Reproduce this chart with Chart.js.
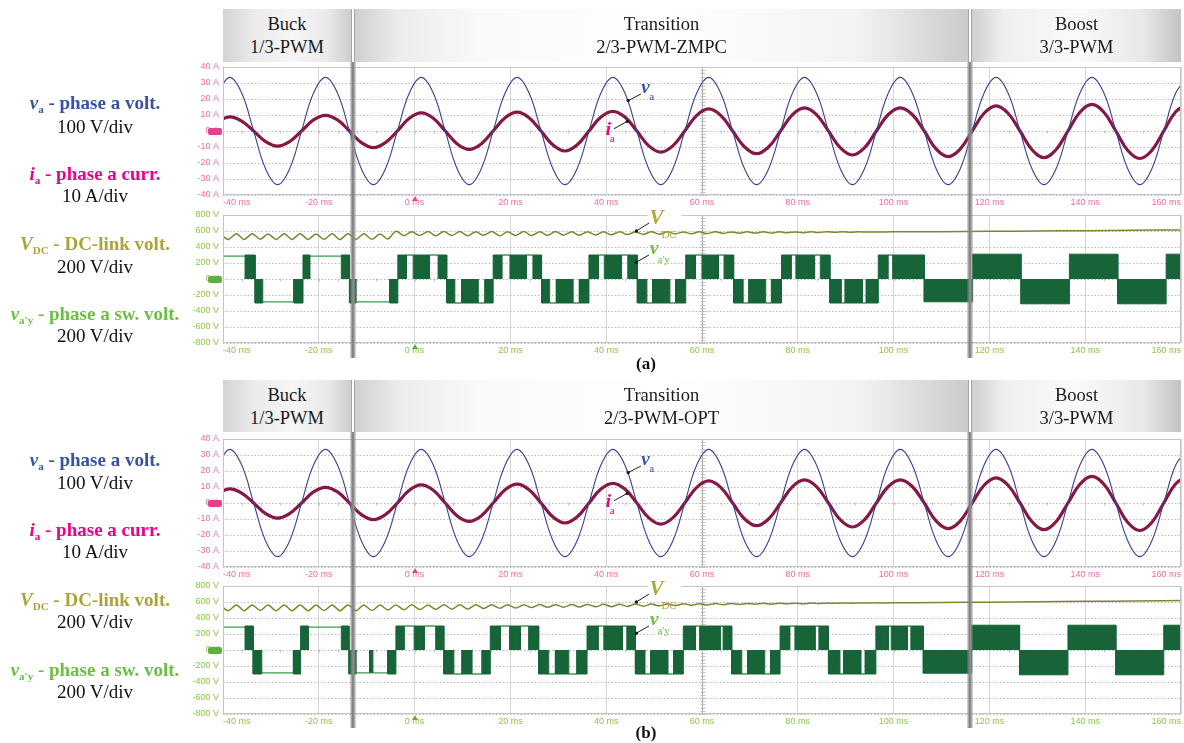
<!DOCTYPE html>
<html>
<head>
<meta charset="utf-8">
<script src="https://cdn.jsdelivr.net/npm/chart.js@4.4.1/dist/chart.umd.min.js"></script>
<style>
  body { margin: 0; background: #fff; }
  #page { position: relative; width: 1184px; height: 743px; overflow: hidden; font-family: "Liberation Serif", "Times New Roman", serif; }
  .lbl { position: absolute; left: 0; width: 190px; text-align: center; font-size: 19px; line-height: 22px; white-space: nowrap; color: #111; }
  .lbl .tag { font-weight: bold; }
  .lbl sub { font-size: 11px; line-height: 0; vertical-align: -0.35em; font-style: normal; }
  .mode { position: absolute; text-align: center; font-size: 18.5px; line-height: 22.5px; color: #1a1a1a; box-sizing: border-box; padding-top: 4px; }
  .sep { position: absolute; width: 2px; border-left: 1px solid #a4a4a4; border-right: 1px solid #a4a4a4; background: #fff; }
  .bar { position: absolute; width: 6px; background: linear-gradient(to right, rgba(140,140,140,0.25), #828282 40%, #8c8c8c 60%, rgba(140,140,140,0.25)); }
  .cap { position: absolute; width: 40px; text-align: center; font-weight: bold; font-size: 17px; line-height: 18px; color: #111; }
  .mark { position: absolute; width: 14px; height: 7px; border-radius: 2px; }
  .trig { position: absolute; width: 0; height: 0; border-left: 3px solid transparent; border-right: 3px solid transparent; }
</style>
</head>
<body>
<div id="page"></div>
<script>
const timeTicksMs = [-40, -20, 0, 20, 40, 60, 80, 100, 120, 140, 160];
const currTicks = [-40, -30, -20, -10, 0, 10, 20, 30, 40];
const voltTicks = [-800, -600, -400, -200, 0, 200, 400, 600, 800];
const transitionMs = [-12.9, 116.0];

const modeNamesA = [["Buck", "1/3-PWM"], ["Transition", "2/3-PWM-ZMPC"], ["Boost", "3/3-PWM"]];
const modeNamesB = [["Buck", "1/3-PWM"], ["Transition", "2/3-PWM-OPT"], ["Boost", "3/3-PWM"]];

// sample times of the sine traces (ms)
const sineTimeMs = [
  -41.1, -38.6, -36.1, -33.6, -31.1, -28.6, -26.1, -23.6,
  -21.1, -18.6, -16.1, -13.6, -11.1, -8.6, -6.1, -3.6,
  -1.1, 1.4, 3.9, 6.4, 8.9, 11.4, 13.9, 16.4,
  18.9, 21.4, 23.9, 26.4, 28.9, 31.4, 33.9, 36.4,
  38.9, 41.4, 43.9, 46.4, 48.9, 51.4, 53.9, 56.4,
  58.9, 61.4, 63.9, 66.4, 68.9, 71.4, 73.9, 76.4,
  78.9, 81.4, 83.9, 86.4, 88.9, 91.4, 93.9, 96.4,
  98.9, 101.4, 103.9, 106.4, 108.9, 111.4, 113.9, 116.4,
  118.9, 121.4, 123.9, 126.4, 128.9, 131.4, 133.9, 136.4,
  138.9, 141.4, 143.9, 146.4, 148.9, 151.4, 153.9, 156.4,
  158.9, 161.4
];
// v_a in divisions x10 (100 V/div), i_a in A (10 A/div)
const phaseVolt = [
  23.7, 33.5, 23.7, 0, -23.7, -33.5, -23.7, 0,
  23.7, 33.5, 23.7, 0, -23.7, -33.5, -23.7, 0,
  23.7, 33.5, 23.7, 0, -23.7, -33.5, -23.7, 0,
  23.7, 33.5, 23.7, 0, -23.7, -33.5, -23.7, 0,
  23.7, 33.5, 23.7, 0, -23.7, -33.5, -23.7, 0,
  23.7, 33.5, 23.7, 0, -23.7, -33.5, -23.7, 0,
  23.7, 33.5, 23.7, 0, -23.7, -33.5, -23.7, 0,
  23.7, 33.5, 23.7, 0, -23.7, -33.5, -23.7, 0,
  23.7, 33.5, 23.7, 0, -23.7, -33.5, -23.7, 0,
  23.7, 33.5, 23.7, 0, -23.7, -33.5, -23.7, 0,
  23.7, 33.5
];
const phaseCurr = [
  6.2, 8.8, 6.2, 0, -6.6, -9.4, -6.6, 0,
  6.9, 9.8, 6.9, 0, -7.3, -10.4, -7.3, 0,
  8.0, 11.3, 8.0, 0, -8.1, -11.5, -8.1, 0,
  8.3, 11.8, 8.3, 0, -8.8, -12.5, -8.8, 0,
  8.7, 12.3, 8.7, 0, -9.3, -13.2, -9.3, 0,
  9.8, 13.8, 9.8, 0, -10.0, -14.2, -10.0, 0,
  10.2, 14.4, 10.2, 0, -10.6, -15.0, -10.6, 0,
  10.3, 14.5, 10.3, 0, -11.3, -16.0, -11.3, 0,
  11.1, 15.7, 11.1, 0, -11.7, -16.6, -11.7, 0,
  11.7, 16.6, 11.7, 0, -12.2, -17.2, -12.2, 0,
  12.0, 17.0
];

// DC-link voltage samples (ms, V)
const dcTimeMs = [
  -40.6, -38.9, -37.2, -35.6, -33.9, -32.2, -30.6, -28.9, -27.2, -25.6,
  -23.9, -22.2, -20.6, -18.9, -17.2, -15.6, -13.9, -12.2, -10.6, -8.9,
  -7.2, -5.6, -3.9, -2.2, -0.6, 1.1, 2.8, 4.4, 6.1, 7.8,
  9.4, 11.1, 12.8, 14.4, 16.1, 17.8, 19.4, 21.1, 22.8, 24.4,
  26.1, 27.8, 29.4, 31.1, 32.8, 34.4, 36.1, 37.8, 39.4, 41.1,
  42.8, 44.4, 46.1, 47.8, 49.4, 51.1, 52.8, 54.4, 56.1, 57.8,
  59.4, 61.1, 62.8, 64.4, 66.1, 67.8, 69.4, 71.1, 72.8, 74.4,
  76.1, 77.8, 79.4, 81.1, 82.8, 84.4, 86.1, 87.8, 89.4, 91.1,
  92.8, 94.4, 96.1, 97.8, 99.4, 110, 120, 130, 140, 150,
  162
];
const dcLinkA = [
  565, 495, 566, 494, 565, 496, 564, 495, 566, 494,
  565, 495, 564, 496, 565, 494, 566, 495, 565, 496,
  564, 500, 596, 542, 592, 545, 595, 540, 593, 544,
  594, 541, 591, 546, 595, 540, 592, 544, 594, 543,
  591, 545, 593, 548, 590, 546, 592, 550, 590, 552,
  591, 555, 589, 558, 592, 560, 590, 563, 589, 565,
  590, 568, 591, 570, 589, 572, 590, 574, 591, 575,
  590, 577, 589, 579, 590, 581, 591, 583, 590, 584,
  590, 586, 589, 587, 590, 592, 596, 600, 604, 608,
  614
];
const dcLinkB = [
  562, 492, 563, 491, 562, 493, 561, 492, 563, 491,
  562, 492, 561, 493, 562, 491, 563, 492, 562, 494,
  563, 500, 564, 503, 565, 505, 564, 507, 565, 510,
  565, 514, 566, 518, 565, 522, 567, 526, 566, 530,
  568, 533, 567, 535, 569, 537, 570, 540, 571, 542,
  572, 545, 574, 548, 575, 552, 576, 556, 577, 560,
  579, 564, 580, 567, 581, 570, 582, 572, 583, 575,
  584, 577, 585, 579, 586, 581, 587, 583, 588, 585,
  589, 586, 590, 588, 590, 593, 598, 603, 608, 613,
  619
];

// switched voltage v_a'y: segment edges (ms), level (V), kind P = PWM block, C = clamped
const swEdgesA = [
  -41, -35.4, -33.3, -31.7, -25.2, -23.3, -21.9, -15.3, -13.6, -12.2, -5.2, -3.5,
  -1.7, -0.3, 3.1, 4.9, 6.7, 8.4, 9.8, 13.3, 14.7, 16.4,
  18.2, 19.9, 23.3, 24.7, 26.5, 28.2, 29.6, 33.1, 34.4, 36.4,
  38.4, 39.6, 43.2, 44.5, 46.5, 48.5, 49.7, 53.3, 54.5, 56.6,
  58.6, 60.0, 63.4, 64.6, 66.6, 68.6, 69.8, 73.3, 74.5, 76.6,
  78.6, 79.6, 83.5, 84.7, 86.7, 89.1, 89.9, 93.5, 94.3, 96.8,
  98.8, 99.8, 106.4, 116.5, 126.6, 136.7, 146.8, 156.9, 162
];
const swLevelsA = [
  285, 300, -300, -285, -300, 300, 285, 300, -300, -285, -300,
  300, 300, 300, 300, 300, -300, -300, -300, -300, -300,
  300, 300, 300, 300, 300, -300, -300, -300, -300, -300,
  300, 300, 300, 300, 300, -300, -300, -300, -300, -300,
  300, 300, 300, 300, 300, -300, -300, -300, -300, -300,
  300, 300, 300, 300, 300, -300, -300, -300, -300, -300,
  300, 300, 300, -285, 310, -310, 310, -310, 310
];
const swKindsA = "CPPCPPCPPCP PCPCP PCPCP PCPCP PCPCP PCPCP PCPCP PCPCP PCPCP PCPCP PCPCP PCP PPPPPP";

const swEdgesB = [
  -41, -35.4, -33.7, -31.9, -25.3, -23.8, -22.2, -15.3, -13.7, -12.2, -9.4, -8.7, -5.6, -3.9,
  -2.2, -0.1, 2.0, 4.4, 6.1, 8.2, 9.9, 12.0, 14.1, 15.8,
  17.9, 19.8, 22.1, 23.8, 25.9, 28.0, 29.4, 32.2, 33.9, 36.0,
  38.3, 39.5, 43.4, 44.3, 46.1, 48.1, 49.3, 52.9, 54.1, 56.1,
  58.6, 59.5, 63.8, 64.4, 66.2, 68.3, 69.5, 73.1, 74.3, 76.3,
  78.3, 79.4, 83.6, 84.4, 86.4, 88.8, 89.6, 93.2, 94.1, 96.3,
  98.9, 99.5, 102.9, 103.6, 106.2, 116.3, 126.3, 136.4, 146.4, 156.4, 162
];
const swLevelsB = [
  285, 300, -300, -285, -300, 300, 285, 300, -300, -285, -285, -285, -300,
  300, 300, 300, 300, 300, -300, -300, -300, -300, -300,
  300, 300, 300, 300, 300, -300, -300, -300, -300, -300,
  300, 300, 300, 300, 300, -300, -300, -300, -300, -300,
  300, 300, 300, 300, 300, -300, -300, -300, -300, -300,
  300, 300, 300, 300, 300, -300, -300, -300, -300, -300,
  300, 300, 300, 300, 300,
  -290, 310, -310, 310, -310, 310
];
const swKindsB = "CPPCPPCPPCPCP PCPCP PCPCP PCPCP PCPCP PCPCP PCPCP PCPCP PCPCP PCPCP PCPCP PCPCP P PPPPP";

// ---- layout ----
const AXIS_W = 40, PAD_T = 10, PAD_R = 3, XAXIS_H = 14;
const page = document.getElementById("page");
const serif = '"Liberation Serif", "Times New Roman", serif';

const sideLabels = [
  '<span class="tag" style="color:#3953a4"><i>v</i><sub>a</sub> - phase a volt.</span>',
  '100 V/div',
  '<span class="tag" style="color:#ec008c"><i>i</i><sub>a</sub> - phase a curr.</span>',
  '10 A/div',
  '<span class="tag" style="color:#aca43a"><i>V</i><sub>DC</sub> - DC-link volt.</span>',
  '200 V/div',
  '<span class="tag" style="color:#6dbe45"><i>v</i><sub>a\'y</sub> - phase a sw. volt.</span>',
  '200 V/div'
];
const sideLabelYA = [104, 128, 175, 197, 245, 268, 315, 337];
const sideLabelYB = [461, 484, 531, 553, 601, 623, 671, 693];

function pts(xs, ys) {
  return xs.map((x, i) => ({ x: x, y: ys[i] }));
}

function switchingData(edges, levels, kindStr) {
  const kinds = kindStr.replace(/ /g, "");
  const blocks = [], clamp = [];
  for (let i = 0; i < levels.length; i++) {
    const a = edges[i], b = edges[i + 1];
    if (kinds[i] === "P") {
      blocks.push({ x: a, y: levels[i] }, { x: b, y: levels[i] });
      clamp.push({ x: a, y: null });
    } else {
      blocks.push({ x: a, y: 0 }, { x: b, y: 0 });
      clamp.push({ x: a, y: levels[i] }, { x: b, y: levels[i] });
    }
  }
  return { blocks, clamp };
}

const scopeDecor = {
  id: "scopeDecor",
  beforeDatasetsDraw(chart) {
    const { ctx, chartArea: a, scales: { x, y } } = chart;
    ctx.save();
    ctx.strokeStyle = "#a9a9a9";
    ctx.lineWidth = 1;
    const cx = Math.round(x.getPixelForValue(60)) + 0.5;
    const cy = Math.round(y.getPixelForValue(0)) + 0.5;
    ctx.beginPath();
    ctx.moveTo(cx, a.top); ctx.lineTo(cx, a.bottom);
    ctx.stroke();
    ctx.beginPath();
    const stepY = (a.bottom - a.top) / 40;
    for (let py = a.top; py <= a.bottom + 0.1; py += stepY) {
      ctx.moveTo(cx - 2, Math.round(py) + 0.5); ctx.lineTo(cx + 3, Math.round(py) + 0.5);
    }
    const stepX = (a.right - a.left) / 50;
    for (let px = a.left; px <= a.right + 0.1; px += stepX) {
      ctx.moveTo(Math.round(px) + 0.5, cy - 1); ctx.lineTo(Math.round(px) + 0.5, cy + 2);
    }
    ctx.strokeStyle = "#c2c2c2";
    ctx.stroke();
    ctx.restore();
  },
  afterDraw(chart, args, opts) {
    const { ctx, chartArea: a, scales: { x, y } } = chart;
    ctx.save();
    ctx.strokeStyle = "#c4c4c4";
    ctx.lineWidth = 1;
    ctx.strokeRect(a.left + 0.5, a.top + 0.5, a.width - 1, a.height - 1);
    for (const c of (opts.callouts || [])) {
      const px = x.getPixelForValue(c.t), py = y.getPixelForValue(c.v);
      if (c.bg) {
        ctx.fillStyle = "#fff";
        ctx.fillRect(px + c.bg[0], py + c.bg[1], c.bg[2], c.bg[3]);
      }
      ctx.strokeStyle = "#1a1a1a";
      ctx.lineWidth = 1;
      ctx.beginPath();
      ctx.moveTo(px, py); ctx.lineTo(px + c.dx, py + c.dy);
      ctx.stroke();
      ctx.fillStyle = "#1a1a1a";
      ctx.beginPath(); ctx.arc(px, py, 1.7, 0, Math.PI * 2); ctx.fill();
      ctx.fillStyle = c.color;
      ctx.textBaseline = "alphabetic";
      ctx.textAlign = "left";
      ctx.font = c.font;
      ctx.fillText(c.main, px + c.mx, py + c.my);
      ctx.font = c.subFont;
      ctx.fillText(c.sub, px + c.sx, py + c.sy);
    }
    ctx.restore();
  }
};

const bigItalic = (s) => `italic bold ${s}px ${serif}`;
const subFont = `11px ${serif}`;
const currCallouts = [
  { t: 44.6, v: 19, dx: 12.7, dy: -6.6, main: "v", mx: 13, my: -7.5, sub: "a", sx: 21, sy: -0.5, color: "#3953a4", font: bigItalic(19), subFont },
  { t: 44.4, v: 6, dx: -13.3, dy: 7.3, main: "i", mx: -21.5, my: 13.5, sub: "a", sx: -17.5, sy: 21, color: "#ec008c", font: bigItalic(19), subFont }
];
const swCallouts = [
  { t: 46.3, v: 600, dx: 12.7, dy: -8, main: "V", mx: 13, my: -7.5, sub: "DC", sx: 25, sy: 7, color: "#b0a83a", font: bigItalic(21), subFont, bg: [11, -24, 34, 18] },
  { t: 46.3, v: 210, dx: 12.7, dy: -7.3, main: "v", mx: 13.5, my: -8, sub: "a'y", sx: 21, sy: 1, color: "#6dbe45", font: bigItalic(19), subFont }
];

function scopeChart(box, cfg) {
  const w = AXIS_W + (box.R - box.L) + PAD_R;
  const h = PAD_T + (box.B - box.T) + XAXIS_H;
  const cv = document.createElement("canvas");
  cv.width = w; cv.height = h;
  cv.style.cssText = `position:absolute;left:${box.L - AXIS_W}px;top:${box.T - PAD_T}px;width:${w}px;height:${h}px;`;
  page.appendChild(cv);
  const tickFont = { family: '"Liberation Sans", Arial, sans-serif', size: 9 };
  const chart = new Chart(cv, {
    type: "line",
    data: { datasets: cfg.datasets },
    options: {
      responsive: false,
      animation: false,
      devicePixelRatio: 1,
      layout: { padding: { top: PAD_T, right: PAD_R, left: 0, bottom: 0 } },
      elements: { point: { radius: 0 } },
      plugins: { legend: { display: false }, tooltip: { enabled: false }, scopeDecor: { callouts: cfg.callouts } },
      scales: {
        x: {
          type: "linear", min: -40, max: 160,
          afterBuildTicks: s => { s.ticks = timeTicksMs.map(v => ({ value: v })); },
          afterFit: s => { s.height = XAXIS_H; },
          grid: { color: "#d6d6d6", drawTicks: false },
          border: { display: false },
          ticks: { color: cfg.tickColor, font: tickFont, padding: 2, align: "inner", maxRotation: 0, autoSkip: false, callback: v => v + " ms" }
        },
        y: {
          min: cfg.yTicks[0], max: cfg.yTicks[cfg.yTicks.length - 1],
          afterBuildTicks: s => { s.ticks = cfg.yTicks.map(v => ({ value: v })); },
          afterFit: s => { s.width = AXIS_W; },
          grid: { color: "#b9b9b9", drawTicks: false },
          border: { display: false, dash: [1.5, 2] },
          ticks: { color: cfg.tickColor, font: tickFont, padding: 4, autoSkip: false, callback: v => v + " " + cfg.unit }
        }
      }
    },
    plugins: [scopeDecor]
  });
  chart.$box = box;
  return chart;
}

function currentPanel(box) {
  return scopeChart(box, {
    tickColor: "#f06aa6", unit: "A", yTicks: currTicks, callouts: currCallouts,
    datasets: [
      { data: pts(sineTimeMs, phaseVolt), borderColor: "#3d3f94", borderWidth: 1.1, tension: 0.4, fill: false },
      { data: pts(sineTimeMs, phaseCurr), borderColor: "#861845", borderWidth: 3.2, tension: 0.4, fill: false }
    ]
  });
}

function switchPanel(box, dcLink, edges, levels, kinds) {
  const sw = switchingData(edges, levels, kinds);
  return scopeChart(box, {
    tickColor: "#8cc63e", unit: "V", yTicks: voltTicks, callouts: swCallouts,
    datasets: [
      {
        data: sw.blocks, borderColor: "#166438", backgroundColor: "#166438", borderWidth: 1, tension: 0, fill: "origin",
        segment: { borderColor: c => (c.p0.parsed.y === 0 && c.p1.parsed.y === 0) ? "rgba(0,0,0,0)" : undefined }
      },
      { data: sw.clamp, borderColor: "#3b9e48", borderWidth: 1.3, tension: 0, spanGaps: false, fill: false },
      { data: pts(dcTimeMs, dcLink), borderColor: "#85832f", borderWidth: 1.5, tension: 0.3, fill: false }
    ]
  });
}

function addDiv(cls, css, html) {
  const d = document.createElement("div");
  d.className = cls;
  d.style.cssText = css;
  if (html) d.innerHTML = html;
  page.appendChild(d);
  return d;
}

function figure(opt) {
  // side labels
  sideLabels.forEach((h, i) => addDiv("lbl", `top:${opt.labelY[i] - 12}px;`, h));
  // header boxes
  const hTop = opt.headTop, hH = opt.headH;
  const grads = [
    "linear-gradient(to right,#d3d3d3 0%,#ebebeb 25%,#f6f6f6 55%,#e9e9e9 82%,#cdcdcd 100%)",
    "linear-gradient(to right,#cfcfcf 0%,#ececec 7%,#f9f9f9 20%,#ffffff 50%,#f3f3f3 82%,#cbcbcb 100%)",
    "linear-gradient(to right,#cecece 0%,#efefef 15%,#fafafa 50%,#e8e8e8 82%,#c3c3c3 100%)"
  ];
  const edges = [opt.xL, opt.bars[0] - 2, opt.bars[0] + 2, opt.bars[1] - 2, opt.bars[1] + 2, opt.xR];
  for (let k = 0; k < 3; k++) {
    const l = edges[k * 2], r = edges[k * 2 + 1];
    addDiv("mode", `left:${l}px;top:${hTop}px;width:${r - l}px;height:${hH}px;background:${grads[k]};`,
      opt.modes[k][0] + "<br>" + opt.modes[k][1]);
  }
  opt.bars.forEach(b => {
    addDiv("sep", `left:${b - 2}px;top:${hTop}px;height:${hH}px;`);
    addDiv("bar", `left:${b - 3}px;top:${hTop + hH}px;height:${opt.barBottom - hTop - hH}px;`);
  });
  addDiv("cap", `left:${opt.capX - 20}px;top:${opt.capY - 9}px;`, opt.cap);
}

function markers(chart, color, zeroValue) {
  const b = chart.$box;
  const top0 = b.T - PAD_T, left0 = b.L - AXIS_W;
  const y0 = top0 + chart.scales.y.getPixelForValue(zeroValue);
  addDiv("mark", `left:${b.L - 15}px;top:${y0 - 3.5}px;background:${color};`);
  const x0 = left0 + chart.scales.x.getPixelForValue(0);
  addDiv("trig", `left:${x0 - 3}px;top:${b.B + 1}px;border-bottom:5px solid ${color};`);
}

const boxes = {
  aCurr: { L: 223, R: 1181, T: 67, B: 195 },
  aSw: { L: 223, R: 1181, T: 215, B: 343 },
  bCurr: { L: 223, R: 1181, T: 439, B: 567 },
  bSw: { L: 223, R: 1181, T: 586, B: 714 }
};

const cA1 = currentPanel(boxes.aCurr);
const cA2 = switchPanel(boxes.aSw, dcLinkA, swEdgesA, swLevelsA, swKindsA);
const cB1 = currentPanel(boxes.bCurr);
const cB2 = switchPanel(boxes.bSw, dcLinkB, swEdgesB, swLevelsB, swKindsB);

const xPix = t => (boxes.aCurr.L - AXIS_W) + cA1.scales.x.getPixelForValue(t);
const barPx = transitionMs.map(t => Math.round(xPix(t)));

figure({ labelY: sideLabelYA, headTop: 9, headH: 53, modes: modeNamesA, bars: barPx, xL: Math.round(xPix(-40)), xR: Math.round(xPix(160)), barBottom: 358, cap: "(a)", capX: 646, capY: 364 });
figure({ labelY: sideLabelYB, headTop: 380, headH: 52, modes: modeNamesB, bars: barPx, xL: Math.round(xPix(-40)), xR: Math.round(xPix(160)), barBottom: 728, cap: "(b)", capX: 646, capY: 733 });

markers(cA1, "#e4428f", 0);
markers(cA2, "#5fae3e", 0);
markers(cB1, "#e4428f", 0);
markers(cB2, "#5fae3e", 0);
</script>
</body>
</html>
